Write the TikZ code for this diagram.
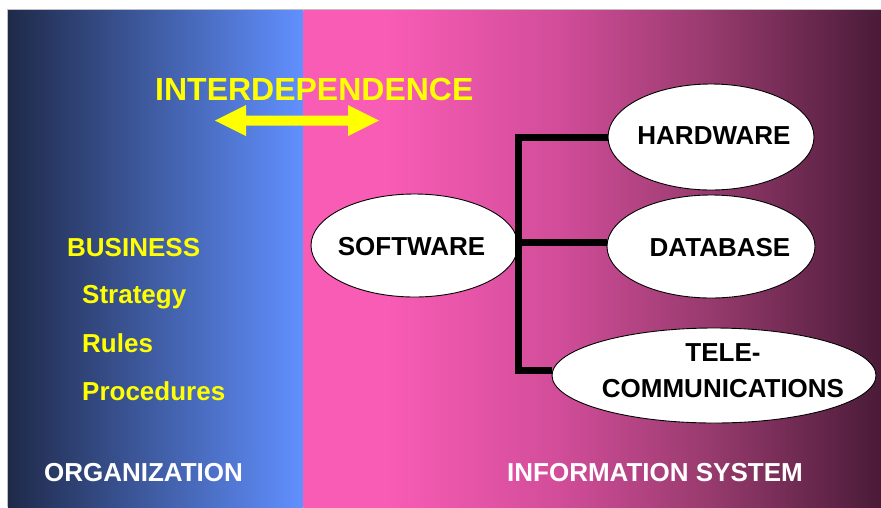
\documentclass[tikz,border=0pt]{standalone}
\usepackage{fontspec}
\setmainfont{Liberation Sans}
\usetikzlibrary{shapes.geometric}
\definecolor{navyc}{HTML}{1F2A4A}
\definecolor{bluec}{HTML}{6190FF}
\definecolor{pinkc}{HTML}{F95CB5}
\definecolor{midc}{HTML}{D24D9A}
\definecolor{midd}{HTML}{983B6E}
\definecolor{darkp}{HTML}{4A1B38}
\definecolor{yel}{HTML}{FFFF00}
\pgfdeclarehorizontalshading{isshade}{100bp}{color(0bp)=(pinkc); color(25bp)=(pinkc); color(32bp)=(pinkc); color(47bp)=(midc); color(60bp)=(midd); color(75bp)=(darkp); color(100bp)=(darkp)}
\tikzset{
  oval/.style={ellipse, draw=black, line width=0.9pt, fill=white, inner sep=0pt},
  ovaltxt/.style={font=\fontsize{26}{36}\selectfont\bfseries, align=center, text=black, inner sep=0pt},
  yeltxt/.style={font=\fontsize{26}{31}\selectfont\bfseries, text=yel, inner sep=0pt},
  whitetxt/.style={font=\fontsize{26}{31}\selectfont\bfseries, text=white, inner sep=0pt},
  bus/.style={line width=7pt, draw=black, line join=miter}
}
\begin{document}
\begin{tikzpicture}[x=1pt,y=-1pt]
\useasboundingbox (0,0) rectangle (881,507);
\fill[white] (0,0) rectangle (881,507);
% panels
\shade[left color=navyc, right color=bluec] (8,10) rectangle (303.3,507);
\shade[shading=isshade] (303.3,10) rectangle (881,507);
\draw[black!25, line width=0.8pt] (7.6,507) -- (7.6,9.6) -- (881,9.6);
% title and arrow
\node[font=\fontsize{32}{38}\selectfont\bfseries, text=yel, inner sep=0pt, anchor=base west] (title) at (155,100) {INTERDEPENDENCE};
\fill[yel] (215,120.5) -- (246,105) -- (246,115.5) -- (348,115.5) -- (348,105) -- (379,120.5)
  -- (348,136) -- (348,125.5) -- (246,125.5) -- (246,136) -- cycle;
% left texts
\node[yeltxt, anchor=base west] (bus) at (67,256) {BUSINESS};
\node[yeltxt, anchor=base west] (strat) at (82,303.5) {Strategy};
\node[yeltxt, anchor=base west] (rules) at (82,352) {Rules};
\node[yeltxt, anchor=base west] (proc) at (82,400) {Procedures};
\node[whitetxt, anchor=base] (org) at (143.5,481) {ORGANIZATION};
\node[whitetxt, anchor=base] (is) at (655,481) {INFORMATION SYSTEM};
% ellipses
\node[oval, minimum width=207pt, minimum height=103pt, label={[ovaltxt, xshift=-3pt, yshift=-1pt]center:SOFTWARE}] (sw) at (414.5,245.5) {};
\node[oval, minimum width=206pt, minimum height=106pt, label={[ovaltxt, xshift=3pt, yshift=1pt]center:HARDWARE}] (hw) at (711,137) {};
\node[oval, minimum width=208pt, minimum height=103pt, label={[ovaltxt, xshift=9pt, yshift=-1pt]center:DATABASE}] (db) at (711,246.5) {};
\node[oval, minimum width=324pt, minimum height=95pt, label={[ovaltxt, xshift=9pt, yshift=5pt]center:TELE-\\COMMUNICATIONS}] (tc) at (714,375.5) {};
% connectors
\draw[bus] (hw.west) -| (sw.east) |- ([yshift=5pt]tc.west);
\draw[bus] ([yshift=3pt]sw.east) -- ([yshift=3pt]sw.east -| db.west);
\end{tikzpicture}
\end{document}
